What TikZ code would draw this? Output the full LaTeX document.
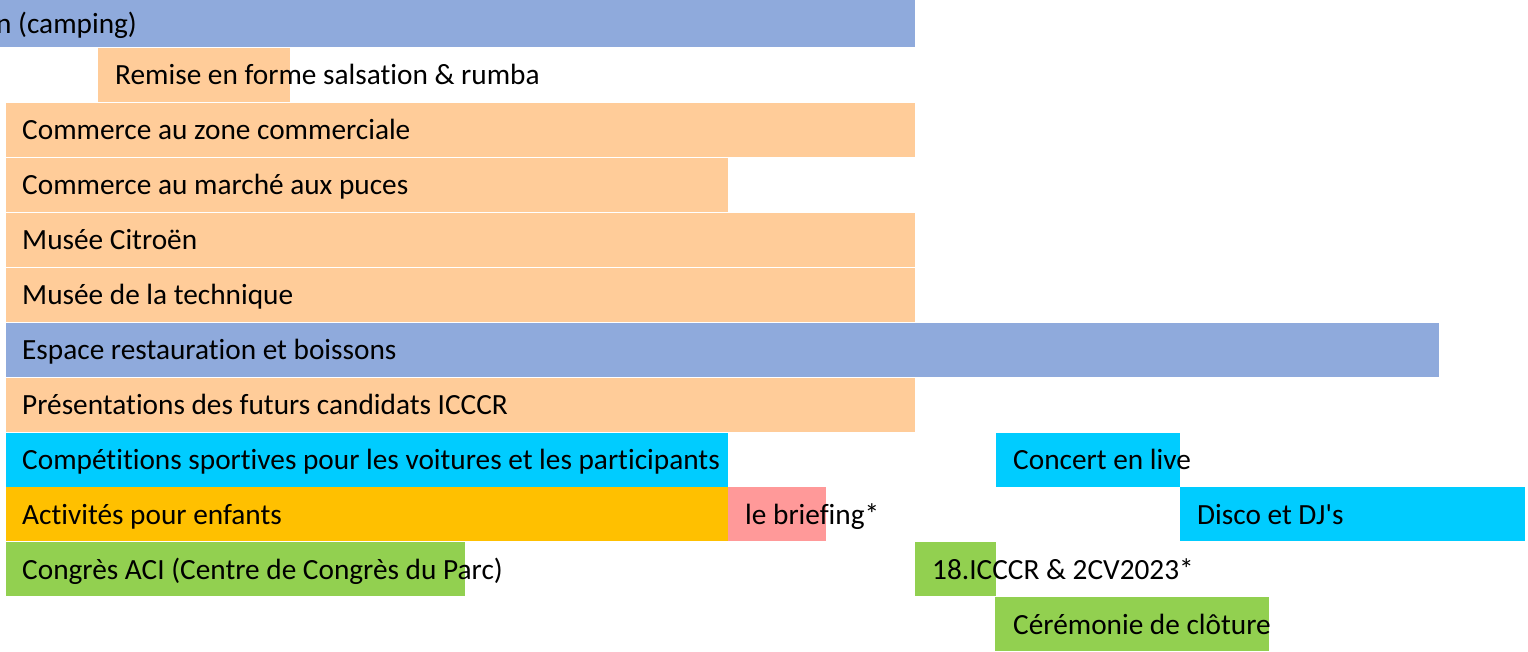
\documentclass[tikz,border=0pt]{standalone}
\usepackage{fontspec}
\newfontfamily\lblfont{Carlito}[Ligatures=NoCommon]
\definecolor{cblue}{HTML}{8FAADC}
\definecolor{cpeach}{HTML}{FFCC99}
\definecolor{ccyan}{HTML}{00CCFF}
\definecolor{cgold}{HTML}{FFC000}
\definecolor{cpink}{HTML}{FF9999}
\definecolor{cgreen}{HTML}{92D050}
\begin{document}
\begin{tikzpicture}[x=1pt,y=-1pt,
  bar/.style={fill=#1,draw=none,inner sep=0pt,anchor=north west},
  lbl/.style={inner sep=0pt,anchor=base west,font=\lblfont\fontsize{29.3}{34}\selectfont,text=black}]
\useasboundingbox (0,0) rectangle (1528,651);
\clip (0,0) rectangle (1528,651);
\def\rh{54}
\node[bar=cblue,minimum width=925pt,minimum height=\rh pt] (b0) at (-10,-7) {};
\node[lbl] (t0) at (-4,33) {n (camping)};

\node[bar=cpeach,minimum width=192pt,minimum height=\rh pt] (b1) at (98,48) {};
\node[lbl] (t1) at (115,84) {Remise en forme salsation \& rumba};

\node[bar=cpeach,minimum width=909pt,minimum height=\rh pt] (b2) at (6,102.9) {};
\node[lbl] (t2) at (22,139) {Commerce au zone commerciale};

\node[bar=cpeach,minimum width=722pt,minimum height=\rh pt] (b3) at (6,157.8) {};
\node[lbl] (t3) at (22,194) {Commerce au marché aux puces};

\node[bar=cpeach,minimum width=909pt,minimum height=\rh pt] (b4) at (6,212.7) {};
\node[lbl] (t4) at (22,249) {Musée Citroën};

\node[bar=cpeach,minimum width=909pt,minimum height=\rh pt] (b5) at (6,267.6) {};
\node[lbl] (t5) at (22,304) {Musée de la technique};

\node[bar=cblue,minimum width=1433pt,minimum height=\rh pt] (b6) at (6,322.5) {};
\node[lbl] (t6) at (22,359) {Espace restauration et boissons};

\node[bar=cpeach,minimum width=909pt,minimum height=\rh pt] (b7) at (6,377.4) {};
\node[lbl] (t7) at (22,414) {Présentations des futurs candidats ICCCR};

\node[bar=ccyan,minimum width=722pt,minimum height=\rh pt] (b8) at (6,432.3) {};
\node[lbl] (t8) at (22,469) {Compétitions sportives pour les voitures et les participants};
\node[bar=ccyan,minimum width=184pt,minimum height=\rh pt] (b8b) at (996,432.3) {};
\node[lbl] (t8b) at (1013,469) {Concert en live};

\node[bar=cgold,minimum width=722pt,minimum height=\rh pt] (b9) at (6,487.2) {};
\node[lbl] (t9) at (22,524) {Activités pour enfants};
\node[bar=cpink,minimum width=98pt,minimum height=\rh pt] (b9b) at (728,487.2) {};
\node[lbl] (t9b) at (745,524) {le briefing*};
\node[bar=ccyan,minimum width=345pt,minimum height=\rh pt] (b9c) at (1180,487.2) {};
\node[lbl] (t9c) at (1197,524) {Disco et DJ's};

\node[bar=cgreen,minimum width=459pt,minimum height=\rh pt] (b10) at (6,542.1) {};
\node[lbl] (t10) at (22,579) {Congrès ACI (Centre de Congrès du Parc)};
\node[bar=cgreen,minimum width=81pt,minimum height=\rh pt] (b10b) at (915,542.1) {};
\node[lbl] (t10b) at (932,579) {18.ICCCR \& 2CV2023*};

\node[bar=cgreen,minimum width=274pt,minimum height=\rh pt] (b11) at (995,597) {};
\node[lbl] (t11) at (1013,634) {Cérémonie de clôture};
\end{tikzpicture}
\end{document}
